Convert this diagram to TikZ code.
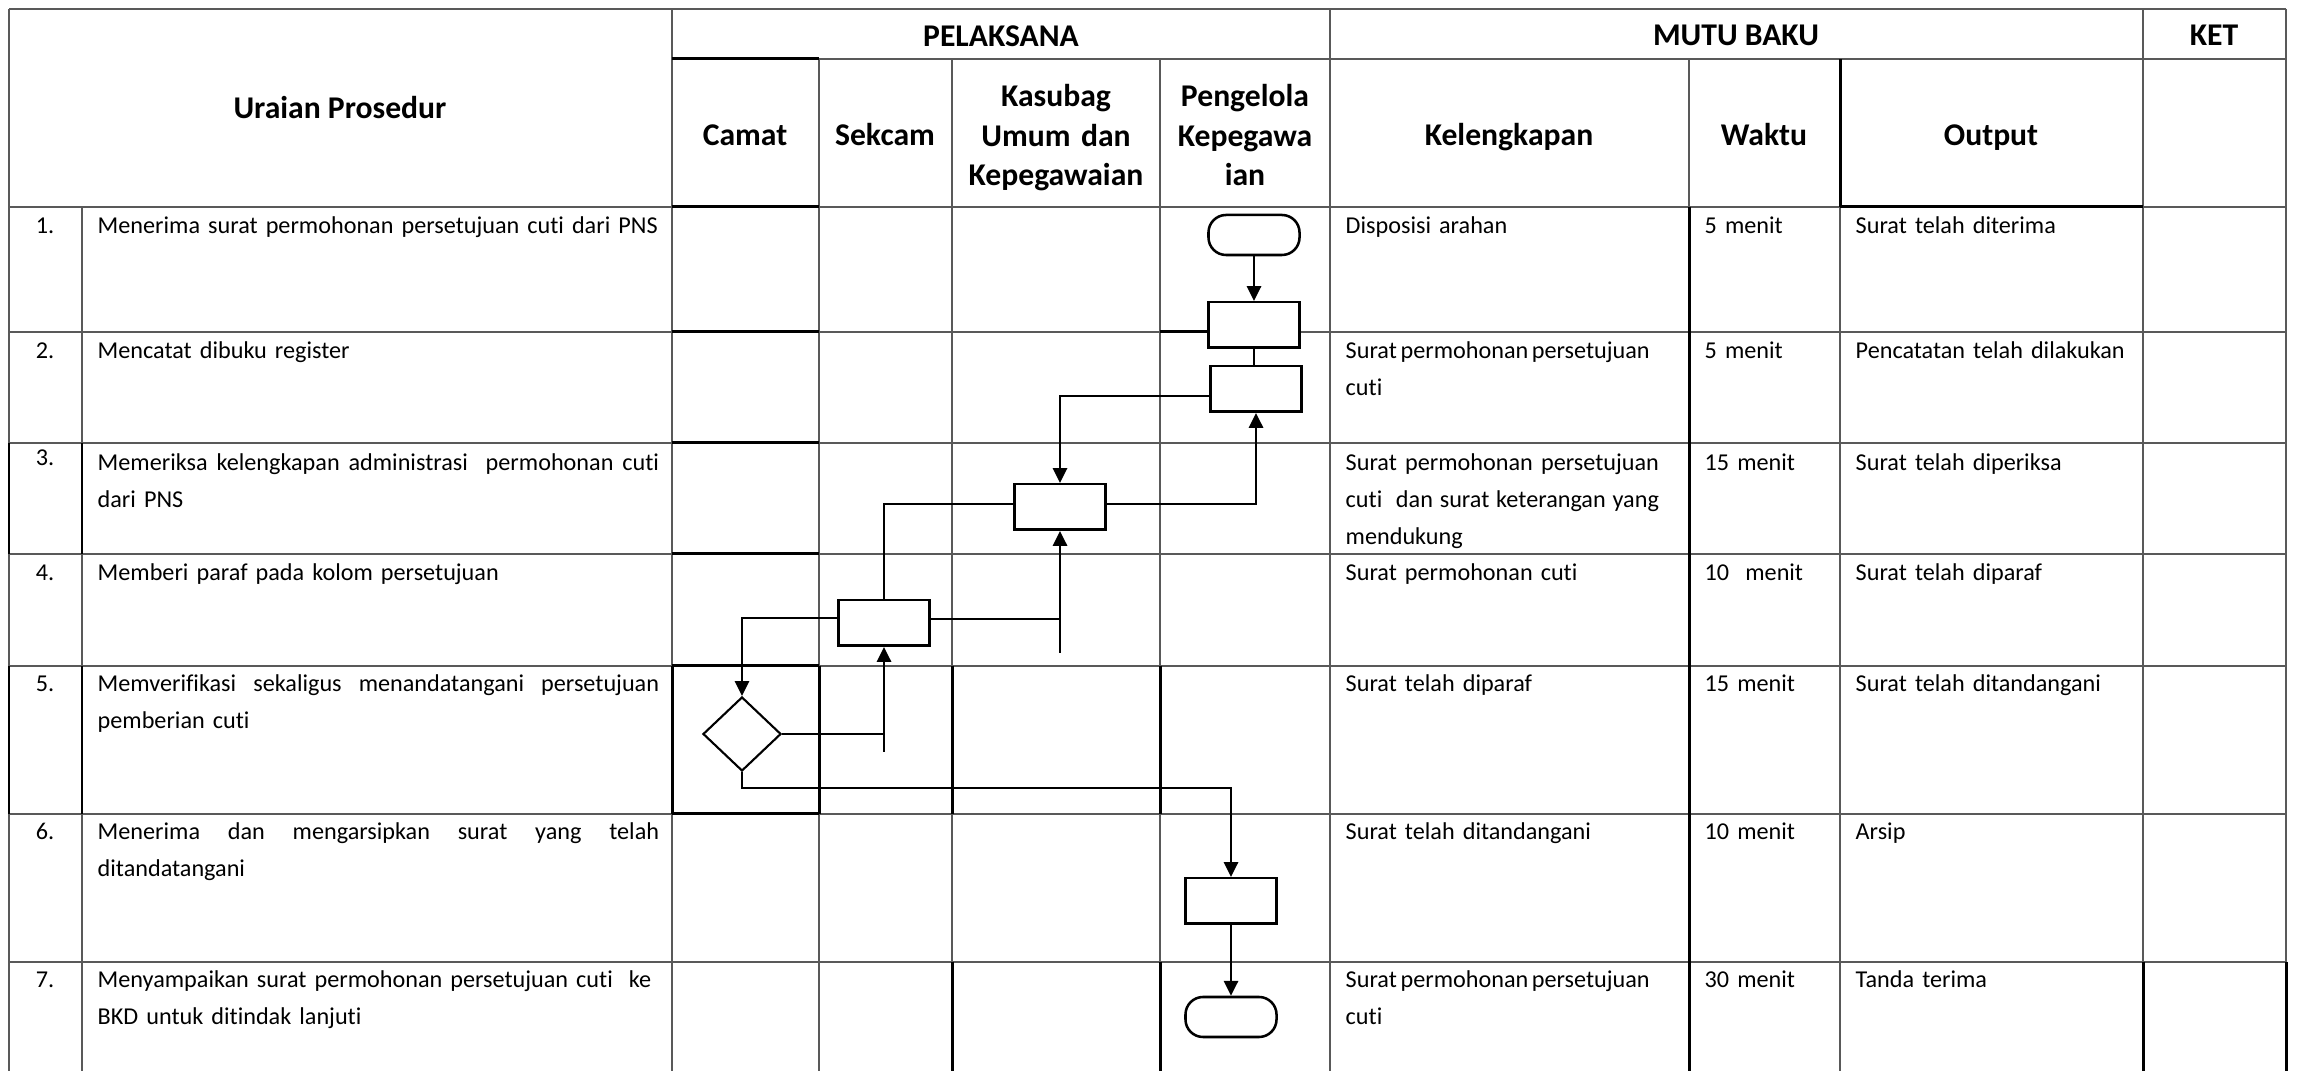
\documentclass[tikz,border=0pt]{standalone}
\usepackage{fontspec}
\setmainfont{Carlito}[Ligatures={NoCommon}]
\usetikzlibrary{arrows.meta,shapes.geometric,calc}
\newcommand\bodyf{\fontsize{6.88pt}{10.44pt}\selectfont}
\newcommand\headf{\fontsize{9pt}{11.1pt}\selectfont\bfseries}
\newcommand\jl[2]{{\spaceskip=0.226em plus 1fil\relax\makebox[#1][s]{#2}}}
\newcommand\tight[1]{{\spaceskip=0.15em\relax #1}}
\begin{document}
\begin{tikzpicture}[x=0.01cm,y=-0.01cm,
  tl/.style={draw=black!65, line width=0.45pt},
  tk/.style={draw=black, line width=0.85pt},
  fl/.style={line width=0.72pt},
  arr/.style={fl, -{Triangle[length=4.2pt,width=4pt]}},
  box/.style={draw, line width=0.72pt, fill=white, minimum width=0.91cm, minimum height=0.455cm, inner sep=0pt},
  term/.style={box, rounded corners=5pt, minimum height=0.40cm},
  dec/.style={diamond, draw, fill=white, line width=0.6pt, minimum width=0.78cm, minimum height=0.74cm, inner sep=0pt},
  hd/.style={anchor=base, inner sep=0pt, font=\headf, align=center},
  num/.style={anchor=base, inner sep=0pt, font=\bodyf},
  txt/.style={anchor=base west, inner sep=0pt, font=\bodyf, align=left, text width=#1},
]
\useasboundingbox (0,0) rectangle (2297,1071);
% ---------- table grid ----------
\draw[tl] (9,9) -- (2286,9);
\foreach \y in {207,332,443,554,666,814,962} \draw[tl] (9,\y) -- (2286,\y);
\draw[tl] (672,59) -- (2286,59);
\foreach \x in {9,672,1330,2143,2286} \draw[tl] (\x,9) -- (\x,1071);
\foreach \x in {819,952,1160,1689,1840} \draw[tl] (\x,59) -- (\x,1071);
\draw[tl] (82,207) -- (82,1071);
% ---------- heavier segments ----------
\foreach \y in {59,207,332,443,554,666,814} \draw[tk] (672,\y) -- (819,\y);
\foreach \x in {672,819,952,1160} \draw[tk] (\x,666) -- (\x,814);
\foreach \x in {952,1160,2143,2286} \draw[tk] (\x,962) -- (\x,1071);
\foreach \x in {9,82} {\draw[tk] (\x,443) -- (\x,554); \draw[tk] (\x,666) -- (\x,814);}
\draw[tk] (1160,332) -- (1210,332);
\draw[tk] (1840,207) -- (2143,207);
\draw[tk] (1840,59) -- (1840,207);
\draw[tk] (1689,207) -- (1689,1071);
% ---------- header ----------
\node[hd] (h1) at (340,119) {Uraian Prosedur};
\node[hd] (h2) at (1001,47) {PELAKSANA};
\node[hd] (h3) at (1736,46) {MUTU BAKU};
\node[hd] (h4) at (2214,46) {KET};
\node[hd] (h5) at (745,146) {Camat};
\node[hd] (h6) at (885,146) {Sekcam};
\node[hd, text width=2.05cm] (h7) at (1056,107) {Kasubag\\Umum dan\\Kepegawaian};
\node[hd, text width=1.65cm] (h8) at (1245,107) {Pengelola\\Kepegawa\\ian};
\node[hd] (h9) at (1509,146) {Kelengkapan};
\node[hd] (h10) at (1764,146) {Waktu};
\node[hd] (h11) at (1991,146) {Output};
% ---------- row numbers ----------
\node[num] (n1) at (45,234) {1.};
\node[num] (n2) at (45,359) {2.};
\node[num] (n3) at (45,466) {3.};
\node[num] (n4) at (45,581) {4.};
\node[num] (n5) at (45,692) {5.};
\node[num] (n6) at (45,840) {6.};
\node[num] (n7) at (45,988) {7.};
% ---------- uraian ----------
\node[txt=5.75cm] (u1) at (97,234) {Menerima surat permohonan persetujuan cuti dari PNS};
\node[txt=5.75cm] (u2) at (97,359) {Mencatat dibuku register};
\node[txt=5.75cm] (u3) at (97,471) {\jl{5.61cm}{Memeriksa kelengkapan administrasi\ \ permohonan cuti}\\dari PNS};
\node[txt=5.75cm] (u4) at (97,581) {Memberi paraf pada kolom persetujuan};
\node[txt=5.75cm] (u5) at (97,692) {\jl{5.61cm}{Memverifikasi sekaligus menandatangani persetujuan}\\pemberian cuti};
\node[txt=5.75cm] (u6) at (97,840) {\jl{5.61cm}{Menerima dan mengarsipkan surat yang telah}\\ditandatangani};
\node[txt=5.75cm] (u7) at (97,988) {Menyampaikan surat permohonan persetujuan cuti\ \ ke\\BKD untuk ditindak lanjuti};
% ---------- kelengkapan ----------
\node[txt=3.3cm] (k1) at (1345,234) {Disposisi arahan};
\node[txt=3.3cm] (k2) at (1345,359) {\tight{Surat permohonan persetujuan}\\cuti};
\node[txt=3.3cm] (k3) at (1345,471) {\jl{3.13cm}{Surat permohonan persetujuan}\\\jl{3.13cm}{cuti\ \ dan surat keterangan yang}\\mendukung};
\node[txt=3.3cm] (k4) at (1345,581) {Surat permohonan cuti};
\node[txt=3.3cm] (k5) at (1345,692) {Surat telah diparaf};
\node[txt=3.3cm] (k6) at (1345,840) {Surat telah ditandangani};
\node[txt=3.3cm] (k7) at (1345,988) {\tight{Surat permohonan persetujuan}\\cuti};
% ---------- waktu ----------
\node[txt=1.3cm] (w1) at (1704,234) {5 menit};
\node[txt=1.3cm] (w2) at (1704,359) {5 menit};
\node[txt=1.3cm] (w3) at (1704,471) {15 menit};
\node[txt=1.3cm] (w4) at (1704,581) {10\ \ menit};
\node[txt=1.3cm] (w5) at (1704,692) {15 menit};
\node[txt=1.3cm] (w6) at (1704,840) {10 menit};
\node[txt=1.3cm] (w7) at (1704,988) {30 menit};
% ---------- output ----------
\node[txt=2.8cm] (o1) at (1855,234) {Surat telah diterima};
\node[txt=2.8cm] (o2) at (1855,359) {Pencatatan telah dilakukan};
\node[txt=2.8cm] (o3) at (1855,471) {Surat telah diperiksa};
\node[txt=2.8cm] (o4) at (1855,581) {Surat telah diparaf};
\node[txt=2.8cm] (o5) at (1855,692) {Surat telah ditandangani};
\node[txt=2.8cm] (o6) at (1855,840) {Arsip};
\node[txt=2.8cm] (o7) at (1855,988) {Tanda terima};
% ---------- flowchart ----------
\node[term] (t1) at (1254,235) {};
\node[box] (b1) at (1254,325) {};
\node[box] (b2) at (1256,389) {};
\node[box] (b3) at (1060,507) {};
\node[box] (b4) at (884,623) {};
\node[dec] (d) at (742,734) {};
\node[box] (b5) at (1231,901) {};
\node[term] (t2) at (1231,1017) {};
\coordinate (s1) at (1060,653);
\coordinate (s2) at (884,752);
\coordinate (j1) at ($(b4.east)+(0,-4)$);
\draw[arr] (t1) -- (b1);
\draw[fl] (b1.south) -- (b1.south |- b2.north);
\draw[arr] ([yshift=-0.07cm]b2.west) -| (b3.north);
\draw[arr] ([yshift=0.03cm]b3.east) -| (b2.south);
\draw[fl] (b4.north) |- ([yshift=0.03cm]b3.west);
\draw[arr] (s1) -- (b3.south);
\draw[fl] (j1) -- (j1 -| s1);
\draw[arr] ([yshift=0.05cm]b4.west) -| (d.north);
\draw[arr] (s2) -- (b4.south);
\draw[fl] (d.east) -- (d.east -| s2);
\draw[arr] (d.south) -- ++(0,16) -| (b5.north);
\draw[arr] (b5) -- (t2);
\end{tikzpicture}
\end{document}
